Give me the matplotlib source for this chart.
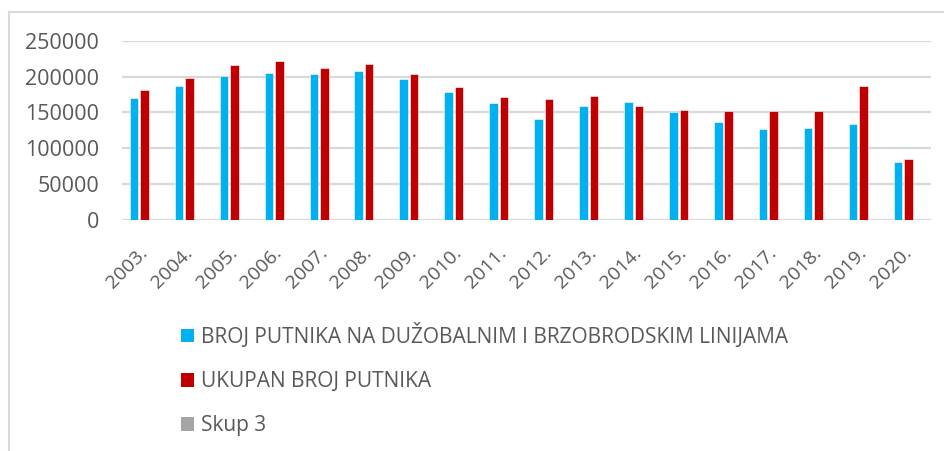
import numpy as np
import matplotlib
matplotlib.use("Agg")
import matplotlib.pyplot as plt
from matplotlib.patches import Patch
from matplotlib.lines import Line2D

plt.rcParams['font.family'] = ['Open Sans', 'DejaVu Sans']

years = ['2003.', '2004.', '2005.', '2006.', '2007.', '2008.', '2009.', '2010.', '2011.',
         '2012.', '2013.', '2014.', '2015.', '2016.', '2017.', '2018.', '2019.', '2020.']

# passengers on long-distance coastal and fast boat lines
broj_duzobalne = [169600, 186800, 200700, 204900, 203100, 208200, 196100, 178900, 163600,
                  141300, 159400, 165000, 150600, 136200, 126900, 128700, 133400, 81300]
# total passengers
ukupan_broj = [181200, 197500, 215600, 221700, 211400, 217000, 203500, 185900, 171000,
               168700, 172900, 159400, 153300, 151900, 152400, 151900, 187300, 85500]
# empty third series
skup3 = [0] * len(years)

labels = ['BROJ PUTNIKA NA DUŽOBALNIM I BRZOBRODSKIM LINIJAMA', 'UKUPAN BROJ PUTNIKA', 'Skup 3']
colors = ['#00B0F0', '#C00000', '#A5A5A5']
txt = '#595959'
grid = '#D9D9D9'

fig = plt.figure(figsize=(9.45, 4.51), dpi=100)
ax = fig.add_axes([122/945, 1 - 220/451, (931-122)/945, (220-40.7)/451])

x = np.arange(len(years))
w = 0.19
off = 0.233
for i, s in enumerate([broj_duzobalne, ukupan_broj, skup3]):
    ax.bar(x + (i - 1) * off, s, width=w, color=colors[i], edgecolor='white', linewidth=0.4, zorder=3)

ax.set_xlim(-0.5, len(years) - 0.5)
ax.set_ylim(0, 250000)
ax.set_yticks(range(0, 250001, 50000))
ax.yaxis.grid(True, color=grid, linewidth=1.6, zorder=0)
ax.set_axisbelow(True)
for sp in ax.spines.values():
    sp.set_visible(False)
ax.tick_params(axis='both', length=0, labelcolor=txt)
ax.tick_params(axis='y', pad=16.5, labelsize=15.5)
ax.set_xticks(x)
ax.set_xticklabels(years, rotation=45, ha='right', va='center', rotation_mode='anchor')
ax.tick_params(axis='x', pad=22, labelsize=14)

# chart area border (top and left only visible)
fig.add_artist(Line2D([9.5/945, 1], [1 - 11.5/451] * 2, color=grid, lw=1.5))
fig.add_artist(Line2D([9.5/945] * 2, [0, 1 - 11.5/451], color=grid, lw=1.5))

handles = [Patch(facecolor=c, edgecolor='none') for c in colors]
fig.legend(handles, labels, loc='upper left', bbox_to_anchor=(162/945, 1 - 304/451),
           frameon=False, fontsize=15, labelcolor=txt, handlelength=0.63, handleheight=0.63,
           handletextpad=0.35, labelspacing=1.12)

fig.savefig('out.png', dpi=100)
